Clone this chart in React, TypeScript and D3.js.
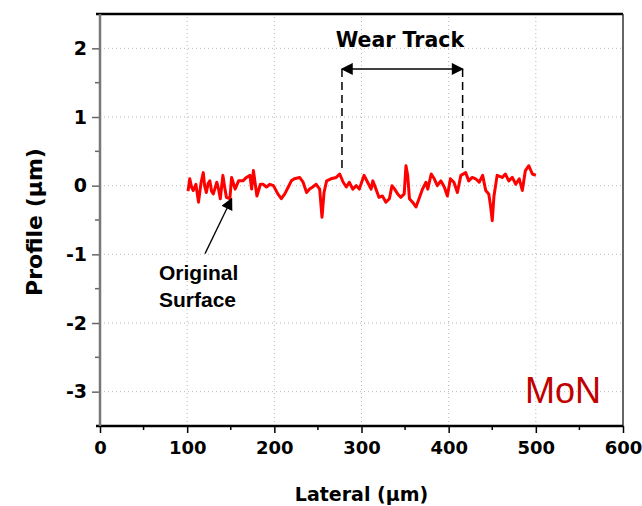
import * as d3 from "d3";
import React, { useRef, useEffect } from "react";

// profile (lateral in µm, height in µm)
const lateral = [
  101, 103, 105, 107, 110, 113, 116, 118.5, 120, 122, 124, 126, 128, 130, 134, 136, 138, 141, 143, 145, 149, 151, 155, 159, 164, 168,
  172, 174, 176, 180, 184, 187, 191, 195, 199, 204, 208, 212, 216, 219.5, 223, 229, 233, 237, 240.5, 244,
  248, 252, 254.7, 257, 260, 265, 271, 275, 279, 282.6, 286, 290, 294, 297.5, 303, 307, 311, 313, 316.6, 320,
  324, 328, 332, 335, 338, 341.5, 345, 349, 351, 353, 355, 358.6, 362.5, 366, 370, 374, 376, 380, 383.5, 387,
  391, 395, 398.5, 402, 406, 410, 414, 419.5, 423, 427, 431, 435, 439, 442.5, 446, 448, 450, 452, 455.6, 461.5,
  465, 469, 473, 477, 481, 484.5, 488, 492, 496, 500,
];
const profile = [
  -0.08, 0.1, -0.02, -0.07, 0.02, -0.24, 0.05, 0.19, 0.0, -0.1, 0.03, 0.07, -0.08, -0.12, 0.05, -0.05, -0.19, 0.15, -0.02, -0.17, -0.19, 0.12, -0.05, 0.07, 0.07, 0.12,
  0.15, -0.05, 0.22, -0.15, 0.02, 0.02, -0.02, 0.02, 0.0, -0.12, -0.19, -0.12, -0.02, 0.07, 0.1, 0.12, 0.05, -0.1, -0.05, -0.02,
  0.02, -0.05, -0.46, -0.1, 0.07, 0.1, 0.12, 0.17, 0.05, -0.02, 0.05, -0.05, 0.0, -0.05, 0.15, 0.05, -0.05, 0.07, -0.05, -0.17,
  -0.15, -0.24, -0.19, 0.0, -0.05, -0.12, -0.17, -0.12, 0.29, 0.15, -0.19, -0.24, -0.31, -0.19, -0.05, 0.05, -0.05, 0.17, 0.1, 0.0,
  0.07, -0.02, -0.15, 0.1, 0.05, -0.1, 0.15, 0.19, 0.07, 0.12, 0.1, 0.05, 0.15, -0.07, -0.12, -0.29, -0.51, -0.15, 0.15, 0.12,
  0.17, 0.07, 0.12, 0.02, 0.1, -0.07, 0.22, 0.29, 0.17, 0.15,
];

const xTicks = [0, 100, 200, 300, 400, 500, 600];
const yTicks = [-3, -2, -1, 0, 1, 2];
const xMinor = [50, 150, 250, 350, 450, 550];
const yMinor = [-2.5, -1.5, -0.5, 0.5, 1.5];

// annotations (data units)
const wearTrack = [277.6, 416];
const wearTrackY = 1.7;
const wearTrackBottom = 0.19;
const surfaceArrow = { from: [120.5, -0.99], to: [151, -0.19] };

const W = 642;
const H = 506;
const margin = { top: 14, right: 19, bottom: 80, left: 100 };
const font = "'DejaVu Sans', sans-serif";
const arial = "'Liberation Sans', Arial, sans-serif";

function ProfileChart() {
  const xAxisRef = useRef<SVGGElement>(null);
  const yAxisRef = useRef<SVGGElement>(null);

  const x = d3.scaleLinear().domain([0, 600]).range([margin.left, W - margin.right]);
  const y = d3.scaleLinear().domain([-3.5, 2.5]).range([H - margin.bottom, margin.top]);

  useEffect(() => {
    const xa = d3.select(xAxisRef.current);
    xa.selectAll("*").remove();
    xa.call(d3.axisBottom(x).tickValues(xTicks).tickSize(7).tickPadding(8).tickFormat((d) => String(d)));
    const ya = d3.select(yAxisRef.current);
    ya.selectAll("*").remove();
    ya.call(d3.axisLeft(y).tickValues(yTicks).tickSize(8).tickPadding(5).tickFormat((d) => String(d)));

    [xa, ya].forEach((g) => {
      g.select(".domain").remove();
      g.selectAll("line").attr("stroke", "#000").attr("stroke-width", 1.5);
      g.selectAll("text").attr("font-family", font).attr("font-weight", "bold").attr("fill", "#000");
    });
    xa.selectAll("text").attr("font-size", 18);
    ya.selectAll("text").attr("font-size", 19);
    ya.selectAll("line").attr("stroke", "#666");
  }, []);

  const line = d3
    .line<number>()
    .x((_, i) => x(lateral[i]))
    .y((d) => y(d));

  const x0 = x(0);
  const x1 = x(600);
  const y0 = y(-3.5);
  const y1 = y(2.5);

  return (
    <svg width={W} height={H} style={{ position: "absolute", left: 0, top: 0 }}>
      <defs>
        <marker id="ah2" viewBox="0 0 10 10" refX="9" refY="5" markerWidth="16" markerHeight="12" orient="auto-start-reverse" markerUnits="userSpaceOnUse">
          <path d="M0,0 L10,5 L0,10 z" fill="#000" />
        </marker>
      </defs>
      <rect width={W} height={H} fill="#fff" />

      {/* grid */}
      {xTicks.slice(1, -1).map((t) => (
        <line key={"gx" + t} x1={x(t)} x2={x(t)} y1={y0} y2={y1} stroke="#b8b8b8" strokeWidth={1} strokeDasharray="1,3" />
      ))}
      {yTicks.map((t) => (
        <line key={"gy" + t} x1={x0} x2={x1} y1={y(t)} y2={y(t)} stroke="#b8b8b8" strokeWidth={1} strokeDasharray="1,3" />
      ))}

      {/* minor ticks */}
      {xMinor.map((t) => (
        <line key={"mx" + t} x1={x(t)} x2={x(t)} y1={y0} y2={y0 + 4} stroke="#000" strokeWidth={1.5} />
      ))}
      {yMinor.map((t) => (
        <line key={"my" + t} x1={x0 - 5} x2={x0} y1={y(t)} y2={y(t)} stroke="#666" strokeWidth={1.5} />
      ))}

      <g ref={xAxisRef} transform={`translate(0,${y0})`} />
      <g ref={yAxisRef} transform={`translate(${x0},0)`} />

      {/* frame */}
      <line x1={x0 - 4} x2={x1} y1={y1} y2={y1} stroke="#000" strokeWidth={2.5} />
      <line x1={x1} x2={x1} y1={y1} y2={y0} stroke="#333" strokeWidth={1.5} />
      <line x1={x0 - 4} x2={x1} y1={y0} y2={y0} stroke="#000" strokeWidth={2.5} />
      <line x1={x0} x2={x0} y1={y1} y2={y0} stroke="#777" strokeWidth={2.5} />

      {/* profile */}
      <path d={line(profile) || ""} fill="none" stroke="#ff0000" strokeWidth={3} strokeLinejoin="round" />

      {/* wear track annotation */}
      {wearTrack.map((v) => (
        <line key={"wt" + v} x1={x(v)} x2={x(v)} y1={y(wearTrackY)} y2={y(wearTrackBottom)} stroke="#000" strokeWidth={1.5} strokeDasharray="8,5" />
      ))}
      <line
        x1={x(wearTrack[0])}
        x2={x(wearTrack[1])}
        y1={y(wearTrackY)}
        y2={y(wearTrackY)}
        stroke="#000"
        strokeWidth={1.5}
        markerStart="url(#ah2)"
        markerEnd="url(#ah2)"
      />
      <text x={x(344)} y={y(2.02)} textAnchor="middle" fontFamily={font} fontWeight="bold" fontSize={20.5}>
        Wear Track
      </text>

      {/* original surface annotation */}
      <line
        x1={x(surfaceArrow.from[0])}
        y1={y(surfaceArrow.from[1])}
        x2={x(surfaceArrow.to[0])}
        y2={y(surfaceArrow.to[1])}
        stroke="#000"
        strokeWidth={1.3}
        markerEnd="url(#ah2)"
      />
      <text fontFamily={arial} fontWeight="bold" fontSize={21}>
        <tspan x={159} y={280}>Original</tspan>
        <tspan x={159} y={307}>Surface</tspan>
      </text>

      <text x={601} y={403} textAnchor="end" fontFamily={arial} fontSize={36} fill="#c00000">
        MoN
      </text>

      {/* axis titles */}
      <text x={(x0 + x1) / 2} y={501} textAnchor="middle" fontFamily={font} fontWeight="bold" fontSize={19}>
        Lateral (µm)
      </text>
      <text
        transform={`translate(42,${(y0 + y1) / 2 + 2}) rotate(-90)`}
        textAnchor="middle"
        fontFamily={font}
        fontWeight="bold"
        fontSize={22}
      >
        Profile (µm)
      </text>
    </svg>
  );
}

export default function App() {
  return <ProfileChart />;
}
